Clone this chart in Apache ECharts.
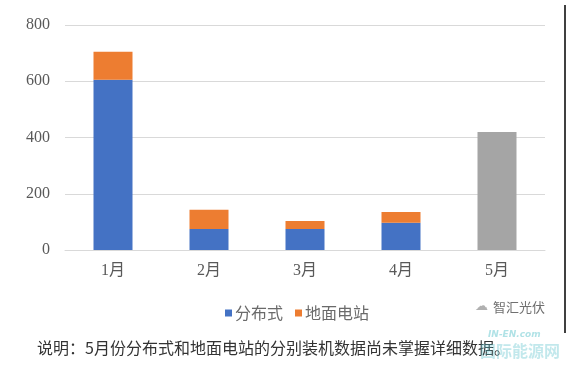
<!DOCTYPE html>
<html><head><meta charset="utf-8">
<script src="https://cdn.jsdelivr.net/npm/echarts@6/dist/echarts.min.js"></script>
<style>html,body{margin:0;padding:0;background:#fff}#c{width:578px;height:370px}</style>
</head><body><div id="c"></div>
<script>
const categories = ['1月','2月','3月','4月','5月'];
const distributed = [605, 75, 75, 97, null];
const ground = [100, 68, 28, 38, null];
const totalOnly = [null, null, null, null, 420];
const yTicks = [0, 200, 400, 600, 800];

const chart = echarts.init(document.getElementById('c'));
const serif = '"Liberation Serif","DejaVu Serif","Noto Sans CJK SC",serif';
chart.setOption({
  animation: false,
  grid: {left: 65, right: 33, top: 25, bottom: 120},
  legend: {
    data: ['分布式','地面电站'],
    left: 220, top: 300,
    itemWidth: 7, itemHeight: 7, itemGap: 12,
    icon: 'rect',
    textStyle: {color: '#6a6a6a', fontSize: 16, fontFamily: '"Noto Sans CJK SC",sans-serif', padding:[0,0,0,-2]}
  },
  xAxis: {
    type: 'category', data: categories,
    axisLine: {lineStyle: {color: '#d9d9d9', width: 1}},
    axisTick: {show: false},
    axisLabel: {color: '#595959', fontSize: 16, fontFamily: serif, margin: 13}
  },
  yAxis: {
    type: 'value', min: yTicks[0], max: yTicks[yTicks.length-1], interval: 200,
    axisLine: {show: false}, axisTick: {show: false},
    splitLine: {lineStyle: {color: '#d9d9d9', width: 1}},
    axisLabel: {color: '#595959', fontSize: 16, fontFamily: serif, margin: 15}
  },
  series: [
    {name: '分布式', type: 'bar', stack: 's', data: distributed, barWidth: 39, itemStyle: {color: '#4472c4'}},
    {name: '地面电站', type: 'bar', stack: 's', data: ground, barWidth: 39, itemStyle: {color: '#ed7d31'}},
    {name: '合计', type: 'bar', stack: 's', data: totalOnly, barWidth: 39, itemStyle: {color: '#a5a5a5'}}
  ],
  graphic: [
    {type: 'line', shape: {x1: 565, y1: 5, x2: 565, y2: 333}, style: {stroke: '#000', lineWidth: 1.5}},
    {type: 'text', left: 493, top: 301, style: {text: '智汇光伏', fill: '#707070', font: '13px "Noto Sans CJK SC",sans-serif'}},
    {type: 'text', left: 475, top: 300, style: {text: '☁', fill: '#b0b0b0', font: '13px "DejaVu Sans",sans-serif'}},
    {type: 'text', left: 37, top: 340, style: {text: '说明：5月份分布式和地面电站的分别装机数据尚未掌握详细数据。', fill: '#333', font: '16px "Noto Sans CJK SC",sans-serif'}},
    {type: 'text', left: 488, top: 330, style: {text: 'IN-EN.com', fill: 'rgba(80,190,200,0.45)', font: 'italic bold 9px "DejaVu Sans",sans-serif'}},
    {type: 'text', left: 480, top: 343, style: {text: '国际能源网', fill: 'rgba(80,190,200,0.35)', font: 'bold 16px "Noto Sans CJK SC",sans-serif'}}
  ]
});
</script></body></html>
